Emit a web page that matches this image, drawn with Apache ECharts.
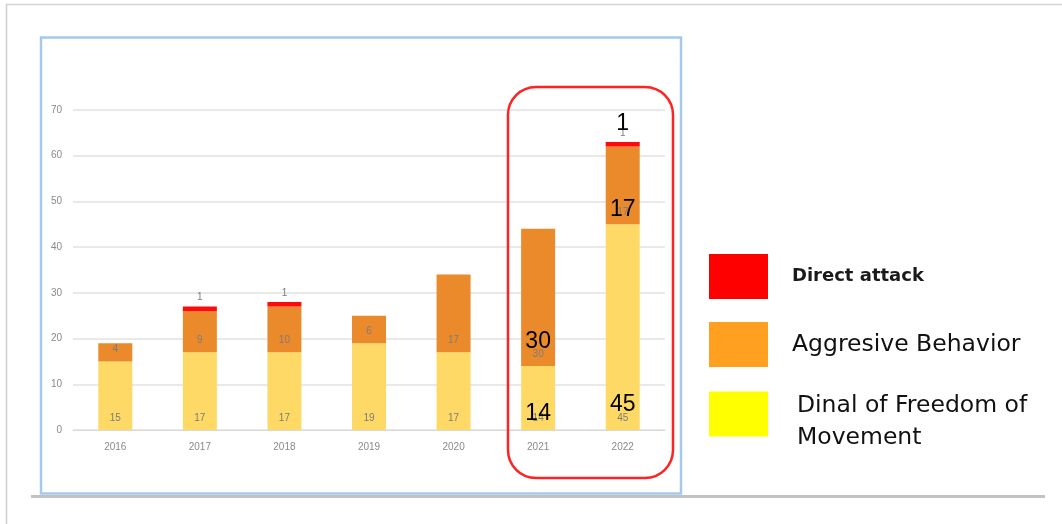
<!DOCTYPE html>
<html>
<head>
<meta charset="utf-8">
<script src="https://cdn.jsdelivr.net/npm/echarts@6/dist/echarts.min.js"></script>
<style>
  html, body { margin: 0; padding: 0; background: #ffffff; }
  #chart { width: 1062px; height: 524px; }
</style>
</head>
<body>
<div id="chart"></div>
<script>
// Incidents per year, split by type
const years = ['2016', '2017', '2018', '2019', '2020', '2021', '2022'];
const denialOfMovement = [15, 17, 17, 19, 17, 14, 45];
const aggressiveBehavior = [4, 9, 10, 6, 17, 30, 17];
const directAttack = [0, 1, 1, 0, 0, 0, 1];

const NAME_DIRECT = 'Direct attack';
const NAME_AGGR = 'Aggresive Behavior';
const NAME_DENIAL = 'Dinal of Freedom of Movement';

// Years repeated with large call-out numbers
const highlighted = ['2021', '2022'];

// Offsets of the large call-out numbers from their segment edge (px)
const calloutDistance = {
  denial: { 2021: 5, 2022: 14 },
  aggr: { 2021: 13, 2022: 3 },
  direct: { 2022: 7 }
};

const BAR_W = 34;
const smallLabel = {
  show: true,
  position: 'insideBottom',
  distance: 7,
  fontSize: 10,
  fontFamily: 'Liberation Sans',
  color: '#7c7c7c',
  formatter: p => (p.value ? String(p.value) : '')
};

function callouts(values, distances) {
  return values.map((v, i) => {
    const d = distances[years[i]];
    const on = highlighted.includes(years[i]) && v > 0 && d != null;
    return { value: v, label: on ? { show: true, distance: d } : { show: false } };
  });
}

const bigLabel = {
  fontSize: 23,
  fontFamily: 'Liberation Sans',
  color: '#000000',
  formatter: p => String(p.value)
};
const clear = { color: 'rgba(0,0,0,0)' };

// Legend entry wrapped onto two lines, set a little below the swatch centre
function wrapDenial(name) {
  const head = name.replace(' Movement', '');
  return '{sp| }\n{t|' + head + '}\n{t|Movement}';
}

const chart = echarts.init(document.getElementById('chart'), null, { renderer: 'canvas' });

chart.setOption({
  animation: false,
  backgroundColor: '#ffffff',
  grid: { left: 73, right: 397, top: 110, bottom: 94, containLabel: false },
  xAxis: {
    type: 'category',
    data: years,
    axisLine: { show: true, lineStyle: { color: '#d9d9d9', width: 1 } },
    axisTick: { show: false },
    axisLabel: { color: '#8a8a8a', fontSize: 10, fontFamily: 'Liberation Sans', margin: 12 }
  },
  yAxis: {
    type: 'value',
    min: 0,
    max: 70,
    interval: 10,
    axisLine: { show: false },
    axisTick: { show: false },
    axisLabel: { color: '#8a8a8a', fontSize: 10, fontFamily: 'Liberation Sans', margin: 11 },
    splitLine: { lineStyle: { color: '#e2e2e2', width: 1.5 } }
  },
  legend: [
    {
      data: [NAME_DIRECT], left: 709, top: 254, padding: 0, orient: 'vertical',
      icon: 'rect', itemWidth: 59, itemHeight: 45,
      itemStyle: { color: '#ff0000' },
      textStyle: { fontSize: 18, fontWeight: 'bold', fontFamily: 'DejaVu Sans', color: '#1a1a1a', padding: [0, 0, 0, 19] }
    },
    {
      data: [NAME_AGGR], left: 709, top: 322, padding: 0, orient: 'vertical',
      icon: 'rect', itemWidth: 59, itemHeight: 45,
      itemStyle: { color: '#ffa020' },
      textStyle: { fontSize: 23.5, fontFamily: 'DejaVu Sans', color: '#111111', padding: [0, 0, 0, 19] }
    },
    {
      data: [NAME_DENIAL], left: 709, top: 381, padding: 0, orient: 'vertical',
      icon: 'rect', itemWidth: 59, itemHeight: 45,
      itemStyle: { color: '#ffff00' },
      formatter: wrapDenial,
      textStyle: {
        fontSize: 23.5, fontFamily: 'DejaVu Sans', color: '#111111', padding: [0, 0, 0, 24],
        rich: {
          sp: { fontSize: 2, lineHeight: 15 },
          t: { fontSize: 23.5, lineHeight: 32, fontFamily: 'DejaVu Sans', color: '#111111' }
        }
      }
    }
  ],
  series: [
    {
      name: NAME_DENIAL, type: 'bar', stack: 'count', barWidth: BAR_W, barGap: '-100%',
      itemStyle: { color: '#ffd966' }, label: smallLabel, data: denialOfMovement
    },
    {
      name: NAME_AGGR, type: 'bar', stack: 'count', barWidth: BAR_W, barGap: '-100%',
      itemStyle: { color: '#eb8a2b' }, label: smallLabel, data: aggressiveBehavior
    },
    {
      name: NAME_DIRECT, type: 'bar', stack: 'count', barWidth: BAR_W, barGap: '-100%',
      itemStyle: { color: '#ff0a0a' },
      label: Object.assign({}, smallLabel, { position: 'top', distance: 4 }),
      data: directAttack
    },
    // Large call-out numbers over the last two years
    {
      name: NAME_DENIAL, type: 'bar', stack: 'callout', barWidth: BAR_W, barGap: '-100%', z: 5,
      itemStyle: clear, label: Object.assign({ position: 'insideBottom' }, bigLabel),
      data: callouts(denialOfMovement, calloutDistance.denial)
    },
    {
      name: NAME_AGGR, type: 'bar', stack: 'callout', barWidth: BAR_W, barGap: '-100%', z: 5,
      itemStyle: clear, label: Object.assign({ position: 'insideBottom' }, bigLabel),
      data: callouts(aggressiveBehavior, calloutDistance.aggr)
    },
    {
      name: NAME_DIRECT, type: 'bar', stack: 'callout', barWidth: BAR_W, barGap: '-100%', z: 5,
      itemStyle: clear, label: Object.assign({ position: 'top' }, bigLabel),
      data: callouts(directAttack, calloutDistance.direct)
    }
  ],
  graphic: [
    // page frame
    { type: 'line', shape: { x1: 6, y1: 4.5, x2: 1062, y2: 4.5 }, style: { stroke: '#d4d4d4', lineWidth: 1.5 }, z: -1 },
    { type: 'line', shape: { x1: 6.5, y1: 4, x2: 6.5, y2: 524 }, style: { stroke: '#cfcfcf', lineWidth: 1.5 }, z: -1 },
    { type: 'line', shape: { x1: 31, y1: 496.5, x2: 1045, y2: 496.5 }, style: { stroke: '#c2c2c2', lineWidth: 3 }, z: -1 },
    // chart frame
    { type: 'rect', shape: { x: 41, y: 37.5, width: 640, height: 456 }, style: { fill: null, stroke: '#a5c9ea', lineWidth: 2.5 }, z: 0 },
    // highlight around 2021–2022
    { type: 'rect', shape: { x: 508, y: 87, width: 165, height: 391, r: 28 }, style: { fill: null, stroke: '#ff2222', lineWidth: 2.5 }, z: 10 }
  ]
});
</script>
</body>
</html>
